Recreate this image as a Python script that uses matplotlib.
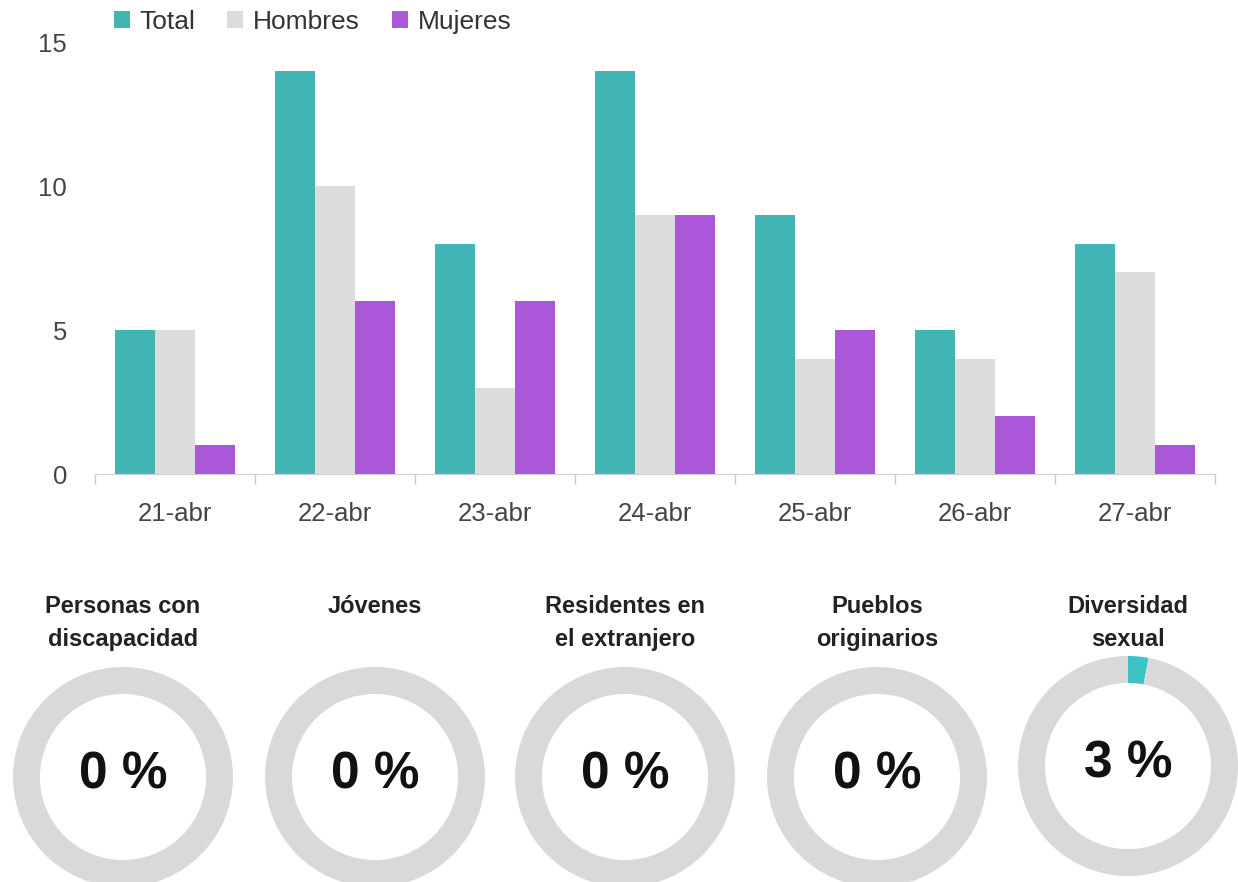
import matplotlib
matplotlib.use("Agg")
import matplotlib.pyplot as plt
import numpy as np

plt.rcParams['font.family'] = ['Liberation Sans', 'DejaVu Sans']

categories = ["21-abr", "22-abr", "23-abr", "24-abr", "25-abr", "26-abr", "27-abr"]
total = [5, 14, 8, 14, 9, 5, 8]
hombres = [5, 10, 3, 9, 4, 4, 7]
mujeres = [1, 6, 6, 9, 5, 2, 1]
series_names = ["Total", "Hombres", "Mujeres"]
yticks = [0, 5, 10, 15]

donut_titles = ["Personas con\ndiscapacidad", "Jóvenes", "Residentes en\nel extranjero",
                "Pueblos\noriginarios", "Diversidad\nsexual"]
donut_pcts = [0, 0, 0, 0, 3]

C_TEAL = "#42B6B7"
C_GRAY = "#DCDCDC"
C_PURPLE = "#AA57DA"
C_RING = "#D9D9D9"
C_RING_HI = "#3EC3C4"

W, H = 1238, 882
fig = plt.figure(figsize=(W / 100, H / 100), dpi=100)

def rect(x0, y0, x1, y1):
    return [x0 / W, 1 - y1 / H, (x1 - x0) / W, (y1 - y0) / H]

ax = fig.add_axes(rect(95, 42, 1215, 474))
x = np.arange(len(categories))
bw = 0.25
colors = [C_TEAL, C_GRAY, C_PURPLE]
for i, (vals, name) in enumerate(zip([total, hombres, mujeres], series_names)):
    ax.bar(x + (i - 1) * bw, vals, width=bw, color=colors[i], label=name)

ax.set_xlim(-0.5, len(categories) - 0.5)
ax.set_ylim(0, 15)
ax.set_yticks(yticks)
ax.set_yticklabels([str(v) for v in yticks])
ax.tick_params(axis='y', length=0, pad=20, labelsize=18.5, labelcolor="#444444")
ax.set_xticks(x)
ax.set_xticklabels(categories)
ax.tick_params(axis='x', which='major', length=0, pad=20, labelsize=18.5, labelcolor="#444444")
ax.set_xticks(np.arange(-0.5, len(categories)), minor=True)
ax.tick_params(axis='x', which='minor', length=7, color="#CCCCCC", width=1)
for s in ['top', 'right', 'left']:
    ax.spines[s].set_visible(False)
ax.spines['bottom'].set_color("#D0D0D0")

leg = ax.legend(loc='center left', bbox_to_anchor=(114 / W, 1 - 22 / H),
                bbox_transform=fig.transFigure, ncol=3, frameon=False,
                fontsize=19, handlelength=0.6, handleheight=0.6,
                handletextpad=0.38, columnspacing=1.2, borderaxespad=0, borderpad=0)
for t in leg.get_texts():
    t.set_color("#333333")

centers_x = [123, 375, 625, 877, 1128]
centers_y = [777, 777, 777, 777, 766]
R = 110
for cx, cy, title, pct in zip(centers_x, centers_y, donut_titles, donut_pcts):
    dax = fig.add_axes(rect(cx - R, cy - R, cx + R, cy + R))
    dax.pie([pct, 100 - pct], colors=[C_RING_HI, C_RING], startangle=90,
            counterclock=False, radius=1,
            wedgeprops=dict(width=0.245, edgecolor='none'))
    dax.set_xlim(-1, 1)
    dax.set_ylim(-1, 1)
    dax.set_aspect('equal')
    dax.axis('off')
    dax.text(0, 0.02, f"{pct} %", ha='center', va='center', fontsize=37,
             fontweight='bold', color="#111111")
    fig.text(cx / W, 1 - 595 / H, title, ha='center', va='top', fontsize=17,
             fontweight='bold', color="#222222", linespacing=1.55)

fig.savefig("out.png", dpi=100)
